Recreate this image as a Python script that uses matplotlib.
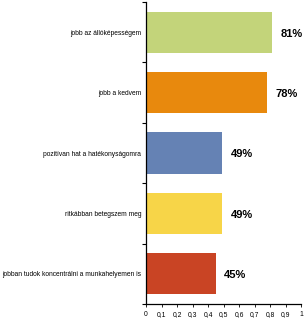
import matplotlib
matplotlib.use("Agg")
import matplotlib.pyplot as plt
import numpy as np

categories = ["jobb az állóképességem", "jobb a kedvem", "pozitívan hat a hatékonyságomra",
              "ritkábban betegszem meg", "jobban tudok koncentrálni a munkahelyemen is"]
values = [0.81, 0.78, 0.49, 0.49, 0.45]
colors = ["#C3D47A", "#E8890D", "#6582B4", "#F7D548", "#C94424"]
xticks = [0, 0.1, 0.2, 0.3, 0.4, 0.5, 0.6, 0.7, 0.8, 0.9, 1]
xticklabels = ["0", "0,1", "0,2", "0,3", "0,4", "0,5", "0,6", "0,7", "0,8", "0,9", "1"]

plt.rcParams['font.family'] = ['Liberation Sans', 'DejaVu Sans']
fig = plt.figure(figsize=(3.07, 3.19), dpi=100)
ax = fig.add_axes([0.4756, 0.047, 0.506, 0.9467])
n = len(categories)
y = np.arange(n)[::-1]
ax.barh(y, values, height=0.68, color=colors)
for yi, v in zip(y, values):
    ax.annotate(f"{round(v*100):d}%", (v, yi), xytext=(6, -1), textcoords="offset points",
                ha="left", va="center", fontsize=8, fontweight="bold")
ax.set_xlim(0, 1)
ax.set_ylim(-0.5, n - 0.5)
ax.set_yticks(y)
ax.set_yticklabels(categories, fontsize=4.8)
ax.set_yticks(np.arange(-0.5, n, 1), minor=True)
ax.tick_params(axis='y', which='major', length=0, pad=3.5)
ax.tick_params(axis='y', which='minor', length=3, width=0.8)
ax.set_xticks(xticks)
ax.set_xticklabels(xticklabels, fontsize=4.9)
ax.tick_params(axis='x', length=2, width=0.6, pad=3)
for s in ["top", "right"]:
    ax.spines[s].set_visible(False)
ax.spines["left"].set_linewidth(0.9)
ax.spines["bottom"].set_linewidth(0.9)
fig.savefig("out.png", dpi=100)
